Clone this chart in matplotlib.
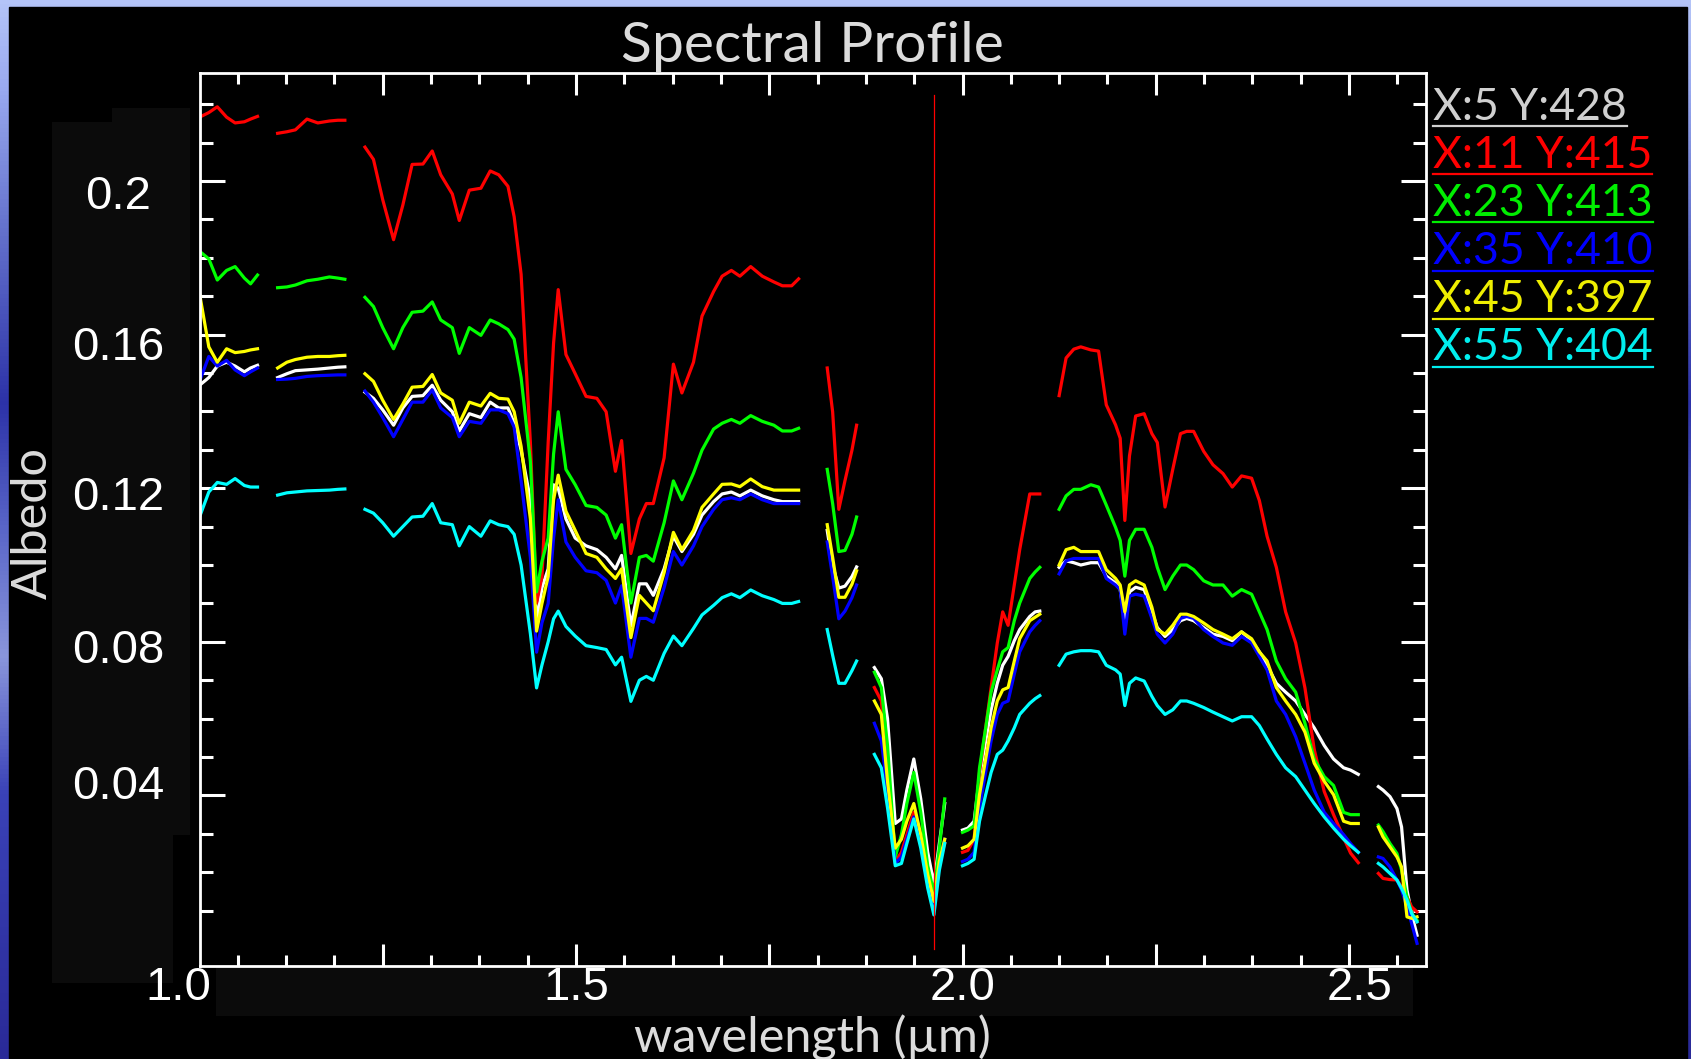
import numpy as np
import matplotlib
matplotlib.use('Agg')
import matplotlib.pyplot as plt
from matplotlib.patches import Rectangle
from matplotlib.lines import Line2D
from matplotlib.colors import LinearSegmentedColormap
from matplotlib.ticker import MultipleLocator, FixedLocator
from matplotlib.transforms import blended_transform_factory, offset_copy

nan = np.nan

# wavelength channels (um), nan = bad bands (gaps)
wl = [1.013, 1.025, 1.036, 1.048, 1.059, 1.071, 1.079, 1.088, nan,
      1.114, 1.126, 1.137, 1.152, 1.166, 1.181, 1.192, 1.201, nan,
      1.227, 1.238, 1.250, 1.264, 1.276, 1.288, 1.302, 1.314, 1.325, 1.340,
      1.349, 1.362, 1.377, 1.389, 1.400, 1.412, 1.420, 1.429, 1.441, 1.449,
      1.456, 1.464, 1.471, 1.477, 1.487, 1.499, 1.513, 1.527, 1.539, 1.551,
      1.559, 1.571, 1.582, 1.591, 1.600, 1.614, 1.626, 1.637, 1.652, 1.663,
      1.678, 1.689, 1.701, 1.712, 1.726, 1.741, 1.756, 1.767, 1.779, 1.788, nan,
      1.825, 1.832, 1.840, 1.848, 1.857, 1.863, nan,
      1.886, 1.895, 1.903, 1.913, 1.921, 1.928, 1.937, 1.946, 1.955, 1.963, 1.970, 1.977, nan,
      2.000, 2.007, 2.015, 2.022, 2.030, 2.037, 2.045, 2.052, 2.059, 2.067, 2.074, 2.087, 2.094, 2.100, nan,
      2.125, 2.134, 2.144, 2.153, 2.166, 2.176, 2.186, 2.198, 2.204, 2.210,
      2.216, 2.224, 2.235, 2.245, 2.252, 2.262, 2.272, 2.282, 2.290, 2.299,
      2.312, 2.324, 2.337, 2.349, 2.361, 2.374, 2.384, 2.394, 2.406, 2.418,
      2.431, 2.443, 2.455, 2.468, 2.480, 2.493, 2.502, 2.512, nan,
      2.538, 2.544, 2.553, 2.562, 2.568, 2.575, 2.581, 2.588]

alb_white = [0.1468, 0.1488, 0.1518, 0.1528, 0.1518, 0.1503, 0.1513, 0.1520, nan,
             0.1488, 0.1498, 0.1506, 0.1508, 0.1510, 0.1513, 0.1515, 0.1516, nan,
             0.1450, 0.1434, 0.1404, 0.1364, 0.1409, 0.1439, 0.1441, 0.1468, 0.1429, 0.1399,
             0.1349, 0.1394, 0.1384, 0.1424, 0.1409, 0.1409, 0.1369, 0.1299, 0.1170, 0.0851,
             0.0941, 0.0990, 0.1209, 0.1200, 0.1120, 0.1070, 0.1050, 0.1040, 0.1020, 0.0990,
             0.1025, 0.0841, 0.0951, 0.0951, 0.0921, 0.0990, 0.1075, 0.1035, 0.1080, 0.1130,
             0.1165, 0.1185, 0.1190, 0.1180, 0.1195, 0.1180, 0.1170, 0.1165, 0.1165, 0.1165, nan,
             0.1090, 0.1000, 0.0940, 0.0945, 0.0970, 0.0995, nan,
             0.0733, 0.0704, 0.0600, 0.0327, 0.0339, 0.0414, 0.0495, 0.0391, 0.0252, 0.0170, 0.0275, 0.0379, nan,
             0.0310, 0.0315, 0.0333, 0.0449, 0.0542, 0.0623, 0.0692, 0.0739, 0.0762, 0.0803, 0.0832, 0.0866, 0.0878, 0.0880, nan,
             0.0994, 0.1011, 0.1006, 0.1000, 0.1006, 0.1006, 0.0971, 0.0953, 0.0936, 0.0855,
             0.0930, 0.0942, 0.0936, 0.0878, 0.0837, 0.0814, 0.0832, 0.0855, 0.0861, 0.0855,
             0.0837, 0.0820, 0.0814, 0.0803, 0.0826, 0.0803, 0.0774, 0.0739, 0.0692, 0.0669,
             0.0646, 0.0611, 0.0576, 0.0530, 0.0495, 0.0472, 0.0466, 0.0455, nan,
             0.0423, 0.0414, 0.0397, 0.0366, 0.0318, 0.0154, 0.0093, 0.0036]

alb_red = [0.2166, 0.2178, 0.2193, 0.2166, 0.2151, 0.2154, 0.2161, 0.2168, nan,
           0.2124, 0.2128, 0.2133, 0.2161, 0.2151, 0.2156, 0.2158, 0.2158, nan,
           0.2088, 0.2056, 0.1951, 0.1847, 0.1937, 0.2043, 0.2044, 0.2078, 0.2016, 0.1966,
           0.1897, 0.1976, 0.1981, 0.2026, 0.2016, 0.1986, 0.1907, 0.1757, 0.1319, 0.0901,
           0.0970, 0.1319, 0.1578, 0.1717, 0.1548, 0.1498, 0.1439, 0.1434, 0.1399, 0.1244,
           0.1324, 0.1030, 0.1120, 0.1160, 0.1160, 0.1279, 0.1523, 0.1448, 0.1528, 0.1648,
           0.1712, 0.1752, 0.1767, 0.1752, 0.1777, 0.1752, 0.1737, 0.1727, 0.1727, 0.1745, nan,
           0.1513, 0.1399, 0.1145, 0.1220, 0.1299, 0.1364, nan,
           0.0681, 0.0646, 0.0472, 0.0228, 0.0252, 0.0298, 0.0356, 0.0275, 0.0182, 0.0112, 0.0228, 0.0275, nan,
           0.0252, 0.0257, 0.0286, 0.0460, 0.0576, 0.0681, 0.0797, 0.0878, 0.0843, 0.0948, 0.1040, 0.1185, 0.1185, 0.1185, nan,
           0.1441, 0.1539, 0.1562, 0.1568, 0.1560, 0.1557, 0.1417, 0.1365, 0.1330, 0.1116,
           0.1284, 0.1388, 0.1394, 0.1342, 0.1319, 0.1151, 0.1249, 0.1342, 0.1348, 0.1348,
           0.1296, 0.1261, 0.1238, 0.1203, 0.1232, 0.1226, 0.1168, 0.1075, 0.0994, 0.0878,
           0.0797, 0.0680, 0.0520, 0.0410, 0.0350, 0.0290, 0.0250, 0.0225, nan,
           0.0197, 0.0184, 0.0181, 0.0180, 0.0162, 0.0136, 0.0110, 0.0097]

alb_green = [0.1817, 0.1797, 0.1742, 0.1767, 0.1777, 0.1747, 0.1732, 0.1755, nan,
             0.1722, 0.1724, 0.1729, 0.1740, 0.1744, 0.1750, 0.1747, 0.1744, nan,
             0.1697, 0.1673, 0.1618, 0.1563, 0.1618, 0.1658, 0.1661, 0.1685, 0.1638, 0.1618,
             0.1551, 0.1618, 0.1598, 0.1638, 0.1628, 0.1613, 0.1588, 0.1488, 0.1269, 0.0930,
             0.1010, 0.1070, 0.1289, 0.1399, 0.1249, 0.1209, 0.1155, 0.1150, 0.1130, 0.1070,
             0.1105, 0.0901, 0.1020, 0.1025, 0.1010, 0.1110, 0.1219, 0.1170, 0.1239, 0.1299,
             0.1354, 0.1369, 0.1379, 0.1369, 0.1389, 0.1374, 0.1364, 0.1349, 0.1349, 0.1356, nan,
             0.1249, 0.1160, 0.1035, 0.1038, 0.1080, 0.1125, nan,
             0.0721, 0.0681, 0.0530, 0.0240, 0.0298, 0.0379, 0.0460, 0.0356, 0.0217, 0.0147, 0.0263, 0.0391, nan,
             0.0304, 0.0310, 0.0321, 0.0472, 0.0576, 0.0669, 0.0727, 0.0774, 0.0785, 0.0855, 0.0901, 0.0965, 0.0982, 0.0994, nan,
             0.1145, 0.1180, 0.1197, 0.1197, 0.1209, 0.1203, 0.1156, 0.1098, 0.1064, 0.0971,
             0.1064, 0.1093, 0.1093, 0.1046, 0.0994, 0.0936, 0.0971, 0.1000, 0.1000, 0.0988,
             0.0959, 0.0948, 0.0948, 0.0919, 0.0936, 0.0924, 0.0878, 0.0832, 0.0750, 0.0704,
             0.0669, 0.0588, 0.0495, 0.0449, 0.0426, 0.0356, 0.0350, 0.0350, nan,
             0.0323, 0.0306, 0.0275, 0.0249, 0.0206, 0.0136, 0.0093, 0.0075]

alb_blue = [0.1478, 0.1543, 0.1518, 0.1533, 0.1508, 0.1493, 0.1503, 0.1513, nan,
            0.1483, 0.1484, 0.1486, 0.1491, 0.1493, 0.1494, 0.1495, 0.1495, nan,
            0.1453, 0.1424, 0.1384, 0.1334, 0.1379, 0.1424, 0.1424, 0.1456, 0.1409, 0.1384,
            0.1334, 0.1374, 0.1369, 0.1404, 0.1404, 0.1394, 0.1359, 0.1219, 0.1020, 0.0773,
            0.0850, 0.0900, 0.1070, 0.1170, 0.1060, 0.1020, 0.0985, 0.0980, 0.0960, 0.0901,
            0.0946, 0.0760, 0.0861, 0.0861, 0.0851, 0.0941, 0.1035, 0.1000, 0.1050, 0.1100,
            0.1145, 0.1170, 0.1175, 0.1170, 0.1185, 0.1170, 0.1160, 0.1160, 0.1160, 0.1160, nan,
            0.1060, 0.0970, 0.0860, 0.0880, 0.0915, 0.0948, nan,
            0.0588, 0.0542, 0.0414, 0.0223, 0.0240, 0.0286, 0.0344, 0.0275, 0.0170, 0.0101, 0.0217, 0.0286, nan,
            0.0228, 0.0234, 0.0252, 0.0368, 0.0460, 0.0542, 0.0611, 0.0640, 0.0646, 0.0716, 0.0774, 0.0826, 0.0843, 0.0855, nan,
            0.0977, 0.1011, 0.1017, 0.1017, 0.1017, 0.1017, 0.0965, 0.0948, 0.0936, 0.0820,
            0.0919, 0.0924, 0.0919, 0.0861, 0.0820, 0.0797, 0.0820, 0.0861, 0.0866, 0.0861,
            0.0832, 0.0814, 0.0797, 0.0791, 0.0814, 0.0797, 0.0762, 0.0727, 0.0646, 0.0611,
            0.0553, 0.0484, 0.0414, 0.0356, 0.0327, 0.0298, 0.0275, 0.0252, nan,
            0.0240, 0.0236, 0.0214, 0.0180, 0.0154, 0.0110, 0.0067, 0.0015]

alb_yellow = [0.1707, 0.1568, 0.1528, 0.1563, 0.1553, 0.1556, 0.1560, 0.1563, nan,
              0.1513, 0.1528, 0.1535, 0.1541, 0.1543, 0.1543, 0.1545, 0.1546, nan,
              0.1498, 0.1478, 0.1429, 0.1379, 0.1419, 0.1463, 0.1465, 0.1496, 0.1448, 0.1429,
              0.1369, 0.1424, 0.1414, 0.1447, 0.1434, 0.1432, 0.1399, 0.1309, 0.1120, 0.0828,
              0.0900, 0.0970, 0.1170, 0.1234, 0.1140, 0.1090, 0.1030, 0.1020, 0.0990, 0.0965,
              0.0990, 0.0811, 0.0921, 0.0901, 0.0881, 0.0980, 0.1085, 0.1040, 0.1090, 0.1150,
              0.1185, 0.1210, 0.1211, 0.1204, 0.1224, 0.1204, 0.1195, 0.1195, 0.1195, 0.1195, nan,
              0.1105, 0.1020, 0.0916, 0.0916, 0.0950, 0.0985, nan,
              0.0646, 0.0611, 0.0437, 0.0263, 0.0286, 0.0333, 0.0379, 0.0298, 0.0194, 0.0124, 0.0228, 0.0286, nan,
              0.0263, 0.0269, 0.0286, 0.0402, 0.0495, 0.0576, 0.0646, 0.0675, 0.0681, 0.0750, 0.0808, 0.0855, 0.0864, 0.0872, nan,
              0.1000, 0.1040, 0.1046, 0.1035, 0.1035, 0.1035, 0.0988, 0.0965, 0.0948, 0.0878,
              0.0948, 0.0959, 0.0948, 0.0890, 0.0832, 0.0820, 0.0843, 0.0872, 0.0872, 0.0866,
              0.0849, 0.0832, 0.0820, 0.0808, 0.0826, 0.0808, 0.0774, 0.0750, 0.0681, 0.0646,
              0.0611, 0.0565, 0.0484, 0.0437, 0.0402, 0.0333, 0.0327, 0.0327, nan,
              0.0318, 0.0292, 0.0266, 0.0240, 0.0214, 0.0084, 0.0080, 0.0084]

alb_cyan = [0.1125, 0.1190, 0.1215, 0.1210, 0.1225, 0.1207, 0.1203, 0.1203, nan,
            0.1182, 0.1188, 0.1190, 0.1193, 0.1194, 0.1195, 0.1197, 0.1198, nan,
            0.1145, 0.1135, 0.1110, 0.1075, 0.1100, 0.1125, 0.1127, 0.1160, 0.1110, 0.1105,
            0.1050, 0.1100, 0.1075, 0.1115, 0.1105, 0.1100, 0.1080, 0.1000, 0.0821, 0.0680,
            0.0740, 0.0800, 0.0860, 0.0880, 0.0840, 0.0815, 0.0790, 0.0785, 0.0780, 0.0740,
            0.0760, 0.0645, 0.0700, 0.0710, 0.0700, 0.0770, 0.0815, 0.0790, 0.0835, 0.0870,
            0.0895, 0.0915, 0.0925, 0.0915, 0.0935, 0.0920, 0.0910, 0.0900, 0.0900, 0.0905, nan,
            0.0832, 0.0765, 0.0692, 0.0692, 0.0725, 0.0750, nan,
            0.0507, 0.0472, 0.0368, 0.0217, 0.0223, 0.0275, 0.0339, 0.0263, 0.0159, 0.0089, 0.0205, 0.0275, nan,
            0.0217, 0.0223, 0.0234, 0.0333, 0.0402, 0.0460, 0.0507, 0.0518, 0.0542, 0.0576, 0.0611, 0.0640, 0.0652, 0.0660, nan,
            0.0739, 0.0768, 0.0774, 0.0777, 0.0777, 0.0774, 0.0739, 0.0727, 0.0716, 0.0634,
            0.0692, 0.0706, 0.0698, 0.0658, 0.0634, 0.0611, 0.0623, 0.0646, 0.0646, 0.0640,
            0.0629, 0.0617, 0.0605, 0.0594, 0.0605, 0.0605, 0.0582, 0.0547, 0.0507, 0.0472,
            0.0449, 0.0414, 0.0379, 0.0344, 0.0315, 0.0286, 0.0269, 0.0252, nan,
            0.0223, 0.0214, 0.0197, 0.0180, 0.0158, 0.0128, 0.0093, 0.0071]

pixel_labels = ['X:5 Y:428', 'X:11 Y:415', 'X:23 Y:413', 'X:35 Y:410', 'X:45 Y:397', 'X:55 Y:404']
line_colors = ['#ffffff', '#ff0000', '#00ff00', '#0000ff', '#ffff00', '#00ffff']
text_colors = ['#d0d0d0', '#ff0000', '#00ee00', '#0000ff', '#eeee00', '#00eeee']
all_series = [alb_white, alb_red, alb_green, alb_blue, alb_yellow, alb_cyan]

cursor_wl = 1.963          # red cursor line
cursor_span = [0.0, 0.2225]

y_tick_vals = [0.04, 0.08, 0.12, 0.16, 0.2]
y_tick_text = ['0.04', '0.08', '0.12', '0.16', '0.2']
x_tick_vals = [1.0, 1.5, 2.0, 2.5]
x_tick_text = ['1.0', '1.5', '2.0', '2.5']
# the pasted labels sit a little off their ticks (pixels)
y_label_shift = [8, -9, -10, -13, -16]
x_label_shift = [-11, 0, 0, 11]

W, H = 1691, 1059
fig = plt.figure(figsize=(W / 100, H / 100), dpi=100)
fig.patch.set_facecolor('black')

# slide background: blue gradient edge + black screen
bg = fig.add_axes([0, 0, 1, 1])
cmap = LinearSegmentedColormap.from_list('slide', [
    (0.0, '#2a2a98'), (0.25, '#3a42b8'), (0.38, '#8a96dc'), (0.5, '#5a66c8'),
    (0.62, '#2c32a8'), (0.8, '#6a78d0'), (0.92, '#9aaaf0'), (1.0, '#b4c4f8')])
bg.imshow(np.linspace(0, 1, 256).reshape(-1, 1), aspect='auto', cmap=cmap,
          extent=[0, 1, 0, 1], origin='lower')
bg.add_patch(Rectangle((9 / W, 0), (1687 - 9) / W, (H - 7) / H, color='black'))
# pasted label boxes (very dark grey)
for x0, y0, x1, y1 in [(52, 122, 190, 835), (112, 108, 190, 122), (52, 835, 173, 983), (216, 968, 1413, 1016)]:
    bg.add_patch(Rectangle((x0 / W, 1 - y1 / H), (x1 - x0) / W, (y1 - y0) / H, color='#0b0b0b', lw=0))
bg.set_xlim(0, 1)
bg.set_ylim(0, 1)
bg.axis('off')

ax = fig.add_axes([200 / W, 1 - 966 / H, 1226 / W, 893 / H])
ax.set_facecolor('black')

for vals, c in zip(all_series, line_colors):
    ax.plot(wl, vals, color=c, lw=2.3)
ax.plot([cursor_wl, cursor_wl], cursor_span, color='red', lw=0.9)

ax.set_xlim(1.0136, 2.5996)
ax.set_ylim(-0.0044, 0.2281)
ax.xaxis.set_major_locator(MultipleLocator(0.25))
ax.xaxis.set_minor_locator(MultipleLocator(0.0625))
ax.yaxis.set_major_locator(FixedLocator(y_tick_vals))
ax.yaxis.set_minor_locator(FixedLocator(np.arange(0.01, 0.225, 0.01)))
ax.tick_params(which='both', direction='in', top=True, right=True, colors='white',
               labelleft=False, labelbottom=False, width=2.2)
ax.tick_params(axis='x', which='major', length=16)
ax.tick_params(axis='x', which='minor', length=8)
ax.tick_params(axis='y', which='major', length=18)
ax.tick_params(axis='y', which='minor', length=9.5)
for s in ax.spines.values():
    s.set_color('white')
    s.set_linewidth(2)

lab_font = dict(family=['Liberation Sans', 'DejaVu Sans'], color='white', fontsize=34)
ty = blended_transform_factory(ax.transAxes, ax.transData)
for v, s, dy in zip(y_tick_vals, y_tick_text, y_label_shift):
    tr = offset_copy(ty, fig=fig, x=0, y=dy, units='dots')
    ax.text(-0.067, v, s, transform=tr, ha='center', va='center', clip_on=False, **lab_font)
tx = blended_transform_factory(ax.transData, ax.transAxes)
for v, s, dx in zip(x_tick_vals, x_tick_text, x_label_shift):
    tr = offset_copy(tx, fig=fig, x=dx, y=0, units='dots')
    ax.text(v, -0.025, s, transform=tr, ha='center', va='center', clip_on=False, **lab_font)

thin = dict(family=['Lato', 'DejaVu Sans'])
fig.text(812 / W, 1 - 46 / H, 'Spectral Profile', ha='center', va='center',
         fontsize=41, color='#dcdcdc', **thin)
fig.text(812 / W, 1 - 1038 / H, 'wavelength (µm)', ha='center', va='center',
         fontsize=35, color='#dcdcdc', **thin)
fig.text(33 / W, 1 - 523 / H, 'Albedo', rotation=90, ha='center', va='center',
         fontsize=35, color='#dcdcdc', **thin)

# legend with underlines
texts = []
for i, (lab, tc) in enumerate(zip(pixel_labels, text_colors)):
    yc = 107 + 48.2 * i
    t = fig.text(1433 / W, 1 - yc / H, lab, ha='left', va='center', fontsize=32, color=tc, **thin)
    texts.append((t, yc))
fig.canvas.draw()
r = fig.canvas.get_renderer()
for (t, yc), lc in zip(texts, text_colors):
    bb = t.get_window_extent(renderer=r)
    yl = 1 - (yc + 19) / H
    fig.add_artist(Line2D([bb.x0 / W, bb.x1 / W], [yl, yl], transform=fig.transFigure,
                          color=lc, lw=1.6))

fig.savefig('out.png', dpi=100, facecolor='black')
